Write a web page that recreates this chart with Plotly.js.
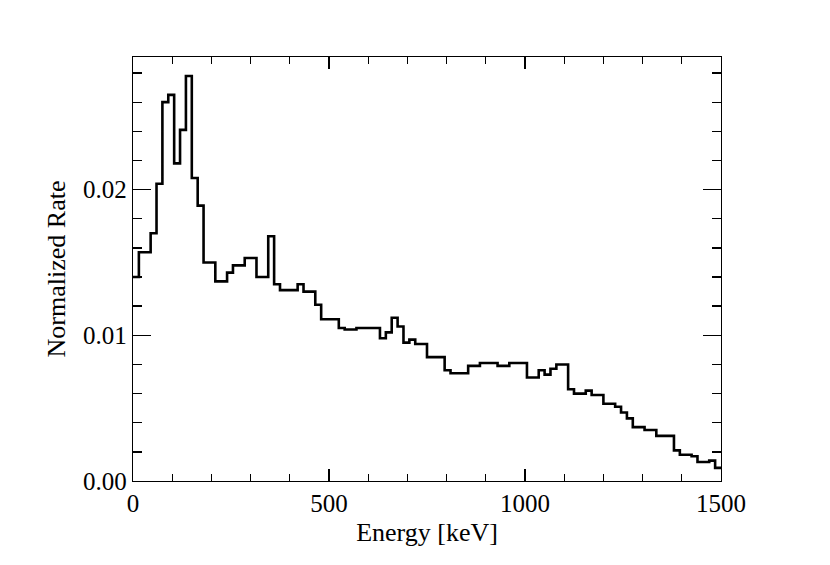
<!DOCTYPE html>
<html>
<head>
<meta charset="utf-8">
<script src="https://cdn.plot.ly/plotly-3.0.1.min.js"></script>
<style>html,body{margin:0;padding:0;background:#fff;}#chart{width:830px;height:565px;}</style>
</head>
<body>
<div id="chart"></div>
<script>
// Lower bin edges (keV) of the energy histogram
const binLowEdges = [0, 15, 45, 60, 75, 90, 105, 120, 135, 150, 165, 180, 210, 240, 255, 285, 315, 345, 360, 375,
  420, 435, 465, 480, 525, 540, 570, 630, 645, 660, 675, 690, 705, 720, 750, 795, 810, 855, 885, 930,
  960, 1005, 1035, 1050, 1065, 1080, 1110, 1125, 1155, 1170, 1200, 1230, 1245, 1260, 1275, 1305, 1335, 1380, 1395, 1425,
  1440, 1470, 1485];
const upperEdge = 1500;
// Normalized rate in each bin
const rates = [0.0140, 0.0157, 0.0170, 0.0204, 0.0260, 0.0265, 0.0218, 0.0241, 0.0278, 0.0208, 0.0189, 0.0150, 0.0137, 0.0143, 0.0148, 0.0153, 0.0140, 0.0168, 0.0135, 0.0131,
  0.0135, 0.0130, 0.0121, 0.0111, 0.0105, 0.0104, 0.0105, 0.0098, 0.0102, 0.0112, 0.0106, 0.0095, 0.0097, 0.0094, 0.0085, 0.0076, 0.0074, 0.0079, 0.0081, 0.0079,
  0.0081, 0.0071, 0.0076, 0.0073, 0.0077, 0.0080, 0.0063, 0.0060, 0.0062, 0.0059, 0.0053, 0.0051, 0.0047, 0.0043, 0.0037, 0.0035, 0.0031, 0.0021, 0.0018, 0.0017,
  0.0013, 0.0014, 0.0009];
const yTickVals = [0, 0.01, 0.02];
const yTickText = ['0.00', '0.01', '0.02'];
const xTickVals = [0, 500, 1000, 1500];

const xs = binLowEdges.concat([upperEdge]);
const ys = rates.concat([rates[rates.length - 1]]);

const serif = 'Liberation Serif, Times New Roman, serif';

const trace = {
  x: xs, y: ys, type: 'scatter', mode: 'lines',
  line: {shape: 'hv', color: '#000', width: 2.6},
  hoverinfo: 'none'
};

const axisCommon = {
  showline: true, linecolor: '#000', linewidth: 1.3, mirror: 'ticks',
  ticks: 'inside', tickcolor: '#000', tickwidth: 1.3,
  showgrid: false, zeroline: false,
  tickfont: {family: serif, size: 25, color: '#000'}
};

const layout = {
  width: 830, height: 565,
  margin: {l: 133, r: 109, t: 57, b: 84},
  paper_bgcolor: '#fff', plot_bgcolor: '#fff',
  showlegend: false,
  xaxis: Object.assign({}, axisCommon, {
    range: [0, 1500], tickvals: xTickVals, ticklen: 12,
    minor: {dtick: 100, ticklen: 7, ticks: 'inside', tickcolor: '#000', tickwidth: 1.3, showgrid: false},
    title: {text: 'Energy [keV]', font: {family: serif, size: 26, color: '#000'}, standoff: 6}
  }),
  yaxis: Object.assign({}, axisCommon, {
    range: [0, 0.0291], tickvals: yTickVals, ticktext: yTickText, ticklen: 18,
    minor: {dtick: 0.002, ticklen: 9, ticks: 'inside', tickcolor: '#000', tickwidth: 1.3, showgrid: false},
    title: {text: 'Normalized Rate', font: {family: serif, size: 26, color: '#000'}, standoff: 10}
  })
};

Plotly.newPlot('chart', [trace], layout, {staticPlot: true, displayModeBar: false});
</script>
</body>
</html>
